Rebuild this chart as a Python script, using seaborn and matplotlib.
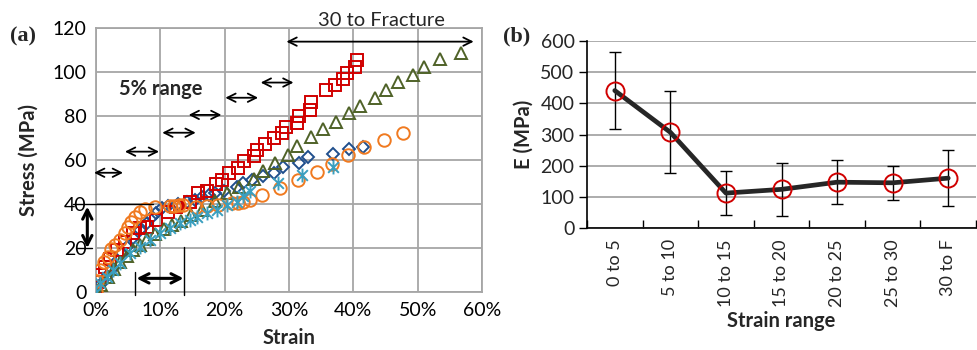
import numpy as np
import pandas as pd
import matplotlib
matplotlib.use("Agg")
import matplotlib.pyplot as plt
from matplotlib.path import Path
import seaborn as sns

# ---------------- data: panel (a) stress-strain (strain %, stress MPa) ----------------
blue_strain = [0, 0.8, 1.6, 2.5, 3.3, 4.1, 4.8, 5.8, 6.8, 7.9, 8.7, 9.4, 10.2, 11.2, 12.8, 14.2,
               15.4, 16.5, 17.5, 18.5, 19.9, 21.9, 22.9, 24.2, 26.0, 27.6, 29.1, 31.6, 33.0,
               36.9, 39.4, 41.5]
blue_stress = [0, 3.5, 7, 10.5, 14, 17.6, 20.6, 24.4, 28.2, 31.2, 34.2, 35.8, 38, 39, 40, 41,
               41.8, 43, 44.1, 44.8, 46.1, 47.9, 49.7, 50.9, 52.7, 54.2, 57, 58.8, 61.2,
               62.7, 64.8, 66.1]

red_strain = [0, 0.1, 0.6, 1.4, 2.2, 3.2, 4.5, 5.8, 6.8, 7.9, 9.4, 11.2, 12.5, 14.6, 15.9,
              17.2, 18.7, 19.6, 20.7, 22.0, 23.0, 24.5, 25.1, 26.2, 27.6, 28.9, 29.6, 31.3,
              31.6, 33.2, 33.4, 35.8, 37.2, 38.4, 39.0, 40.3, 40.6]
red_stress = [0, 4.7, 7.7, 11.5, 15, 19, 22.9, 26.7, 28.9, 29.7, 32.7, 36.5, 38.8, 41, 44.8,
              46, 48.9, 50.9, 54.2, 56.2, 59.4, 61.8, 64.5, 67.3, 70, 72.1, 75.2, 77,
              80, 82.7, 86.2, 91.8, 93.9, 96.7, 99.7, 102.4, 105.5]

green_strain = [0, 0.8, 1.8, 2.8, 3.8, 4.8, 5.8, 6.8, 8.0, 9.2, 10.5, 11.8, 13.2, 14.8, 16.5,
                18.5, 20.3, 22.2, 24.6, 25.9, 27.9, 29.9, 31.3, 33.4, 35.3, 37.3, 39.3, 41.0,
                43.4, 45.0, 47.0, 49.3, 51.0, 53.4, 56.7]
green_stress = [0, 3, 7, 10.5, 13.5, 16.5, 19, 21.5, 24, 26.5, 28.5, 30.5, 32.5, 35, 37.5,
                41.5, 45, 47.8, 51.3, 54.8, 58.5, 62.3, 66.4, 70.3, 73.9, 77.4, 81.2, 84.5,
                88.3, 91.8, 95.6, 98.6, 102.4, 105.8, 108.5]

orange_strain = [0, 0.2, 0.6, 1.2, 1.8, 2.4, 3.0, 3.7, 4.5, 5.0, 5.5, 6.1, 6.8, 7.6, 9.2,
                 11.5, 12.2, 12.9, 13.6, 15.5, 17.2, 19.0, 21.1, 22.1, 22.9, 23.9, 25.8,
                 28.6, 31.4, 34.3, 36.7, 39.1, 41.6, 44.8, 47.7]
orange_stress = [0, 5, 10, 13.8, 16, 19.5, 21.5, 23.6, 26.7, 29.5, 32, 34.2, 36.5, 37.8, 38.8,
                 39.2, 39.3, 39.4, 39.5, 38.8, 39, 39.5, 40.3, 40.6, 41, 41.8, 44.1,
                 47.4, 51, 54.6, 58.3, 62.3, 65.8, 69.1, 72.4]

teal_strain = [0, 0.6, 1.7, 2.7, 3.7, 5.3, 6.8, 8.4, 9.9, 11.5, 13.1, 14.6, 15.7, 17.2, 18.8,
               20.3, 21.9, 22.9, 23.9, 28.3, 32.0, 36.9]
teal_stress = [0, 4, 7, 10, 13, 17.6, 20.6, 23.6, 26.7, 28.9, 31.2, 32.7, 34.2, 35.8, 37.3,
               39.5, 41, 43.6, 46.1, 49.4, 53.2, 57]

# ---------------- data: panel (b) modulus per strain range ----------------
ranges = ["0 to 5", "5 to 10", "10 to 15", "15 to 20", "20 to 25", "25 to 30", "30 to F"]
modulus = [441, 307, 112, 124, 147, 145, 160]
modulus_err = [123, 131, 70, 84, 70, 55, 90]

# ---------------- style ----------------
sns.set_theme(style="white")
plt.rcParams["font.family"] = ["Lato", "DejaVu Sans"]
GRID = "#a6a6a6"
TICK_FS = 14
LAB_FS = 14.5

fig = plt.figure(figsize=(9.77, 3.5), dpi=100)
axa = fig.add_axes([96 / 977, 1 - 292 / 350, (482 - 96) / 977, (292 - 28) / 350])
axb = fig.add_axes([587 / 977, 1 - 228 / 350, (976 - 587) / 977, (228 - 41) / 350])

# asterisk marker (x with vertical bar), Excel style
star = Path([(-1, -1), (1, 1), (-1, 1), (1, -1), (0, -1.3), (0, 1.3)],
            [Path.MOVETO, Path.LINETO, Path.MOVETO, Path.LINETO, Path.MOVETO, Path.LINETO])

series = [
    ("blue", blue_strain, blue_stress, "D", "#1f4e8c", 6.5),
    ("red", red_strain, red_stress, "s", "#d00000", 8.5),
    ("green", green_strain, green_stress, "^", "#4f6228", 9.0),
    ("orange", orange_strain, orange_stress, "o", "#f07a20", 9.0),
    ("teal", teal_strain, teal_stress, star, "#3a9fbf", 10.0),
]
for name, xs, ys, mk, col, ms in series:
    df = pd.DataFrame({"strain": np.array(xs) / 100.0, "stress": ys})
    sns.lineplot(data=df, x="strain", y="stress", ax=axa, estimator=None, sort=False,
                 linestyle="none", marker=mk, markersize=ms, markerfacecolor="none",
                 markeredgecolor=col, markeredgewidth=1.4, color=col, zorder=3)

axa.set_xlim(0, 0.6)
axa.set_ylim(0, 120)
axa.set_xticks(np.arange(0, 0.61, 0.1))
axa.set_xticklabels([f"{int(round(v*100))}%" for v in np.arange(0, 0.61, 0.1)])
axa.set_yticks(np.arange(0, 121, 20))
axa.grid(True, color=GRID, linewidth=1.3)
for sp in axa.spines.values():
    sp.set_color(GRID)
    sp.set_linewidth(1.3)
axa.tick_params(axis="both", length=0, labelsize=TICK_FS, colors="black", pad=7)
axa.set_xlabel("Strain", fontsize=LAB_FS, fontweight="bold", labelpad=7)
axa.set_ylabel("Stress (MPa)", fontsize=LAB_FS, fontweight="bold", labelpad=10)
axa.set_axisbelow(True)

# annotations panel (a)
arr = dict(arrowstyle="<->,head_length=0.5,head_width=0.25", color="black", lw=1.3,
           shrinkA=0, shrinkB=0)
arr_thick = dict(arrowstyle="<->,head_length=0.55,head_width=0.28", color="black", lw=2.2,
                 shrinkA=0, shrinkB=0)
for x0, x1, yy in [(-0.003, 0.042, 54.2), (0.045, 0.098, 63.8), (0.103, 0.155, 72.4),
                   (0.144, 0.195, 80.5), (0.201, 0.252, 88.3), (0.256, 0.307, 95.2)]:
    axa.annotate("", xy=(x1, yy), xytext=(x0, yy), arrowprops=arr, annotation_clip=False)
axa.annotate("", xy=(0.587, 113.8), xytext=(0.296, 113.8), arrowprops=arr,
             annotation_clip=False)
axa.text(0.444, 123.6, "30 to Fracture", ha="center", va="center", fontsize=LAB_FS)
axa.text(0.101, 92.1, "5% range", ha="center", va="center", fontsize=LAB_FS, fontweight="bold")
# stress band arrow at the left
axa.plot([-0.036, 0.089], [40, 40], color="black", lw=1.0, clip_on=False, zorder=4)
axa.plot([-0.031, -0.006], [20, 20], color="black", lw=1.0, clip_on=False, zorder=4)
axa.annotate("", xy=(-0.0135, 20), xytext=(-0.0135, 38.8), arrowprops=arr_thick,
             annotation_clip=False)
# strain band arrow at the bottom
axa.plot([0.0606, 0.0606], [-1.4, 9.2], color="black", lw=1.0, clip_on=False, zorder=4)
axa.plot([0.137, 0.137], [-1.4, 20.6], color="black", lw=1.0, clip_on=False, zorder=4)
axa.annotate("", xy=(0.136, 6.2), xytext=(0.063, 6.2), arrowprops=arr_thick,
             annotation_clip=False)

fig.text(10 / 977, 1 - 36 / 350, "(a)", fontsize=16, fontweight="bold",
         family="Liberation Serif", va="center", ha="left")
fig.text(503 / 977, 1 - 36 / 350, "(b)", fontsize=16, fontweight="bold",
         family="Liberation Serif", va="center", ha="left")

# ---------------- panel (b) ----------------
dfb = pd.DataFrame({"range": ranges, "E": modulus, "err": modulus_err})
pos = np.arange(len(ranges))
axb.errorbar(pos, dfb["E"], yerr=dfb["err"], fmt="none", ecolor="black", elinewidth=1.0,
             capsize=4, capthick=1.0, zorder=2)
sns.lineplot(data=dfb, x="range", y="E", ax=axb, sort=False, color="#262626", lw=3.4,
             marker="o", markersize=13, markerfacecolor="none", markeredgecolor="#d00000",
             markeredgewidth=1.4, zorder=3)
axb.set_xlim(-0.5, len(ranges) - 0.5)
axb.set_ylim(0, 600)
axb.set_yticks(np.arange(0, 601, 100))
axb.yaxis.grid(True, color=GRID, linewidth=1.3)
axb.xaxis.grid(False)
axb.set_axisbelow(True)
for s in ["top", "right"]:
    axb.spines[s].set_visible(False)
for s in ["left", "bottom"]:
    axb.spines[s].set_color("black")
    axb.spines[s].set_linewidth(1.2)
axb.set_xticks(pos)
axb.set_xticklabels(ranges, rotation=90)
axb.set_xticks(np.arange(-0.5, len(ranges), 1.0), minor=True)
axb.tick_params(axis="x", which="major", length=0, labelsize=13, pad=8)
axb.tick_params(axis="x", which="minor", length=6, width=1.0, direction="in", color="black",
                bottom=True)
axb.tick_params(axis="y", length=6, width=1.0, direction="out", color="black", left=True,
                labelsize=TICK_FS, pad=3)
axb.set_xlabel("Strain range", fontsize=LAB_FS, fontweight="bold", labelpad=3)
axb.set_ylabel("E (MPa)", fontsize=LAB_FS, fontweight="bold", labelpad=5)

fig.savefig("out.png", dpi=100)
